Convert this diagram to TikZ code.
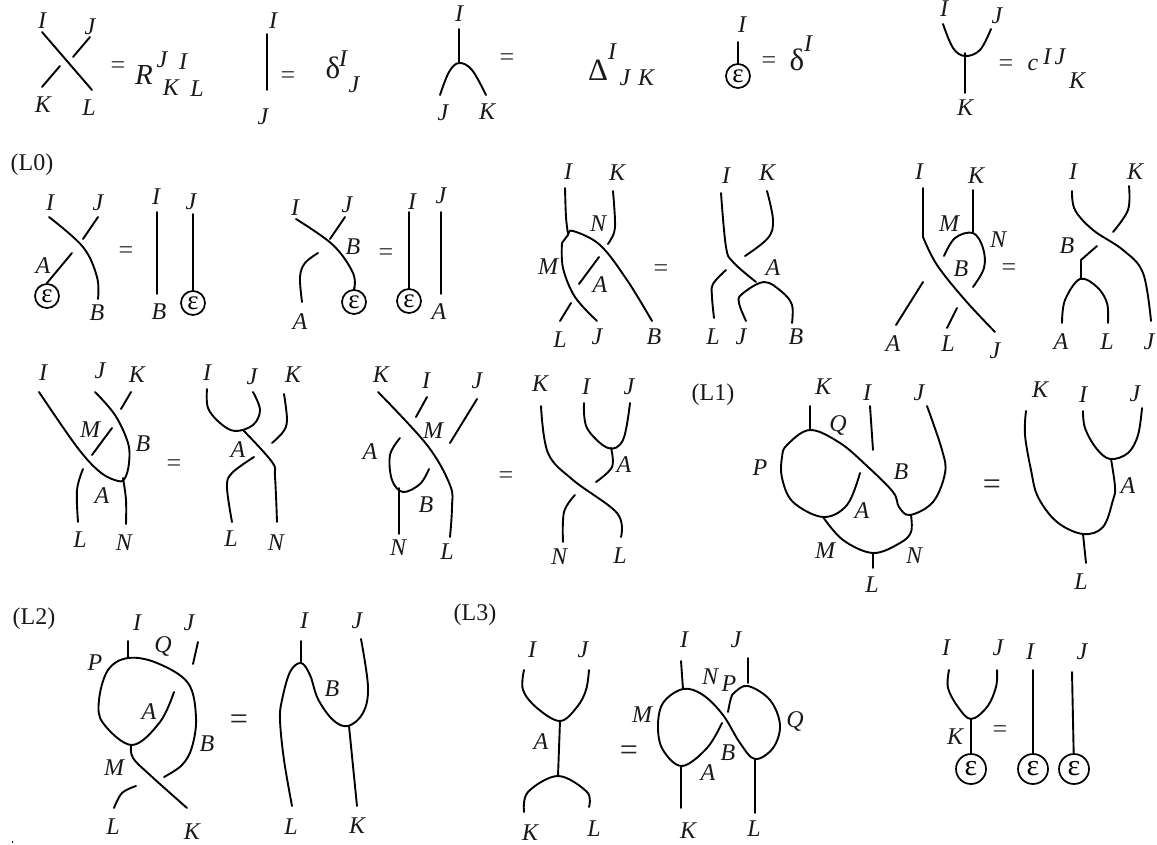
\documentclass[tikz,border=0pt]{standalone}
\usepackage{fontspec}
\setmainfont{Liberation Serif}
\newcounter{lbc}
\newcommand\labl[3]{\stepcounter{lbc}\node[lab] (lb\arabic{lbc}) at (#1,#2) {#3};}
\newcommand\labr[3]{\stepcounter{lbc}\node[labup] (lb\arabic{lbc}) at (#1,#2) {#3};}
\newcommand\labg[3]{\stepcounter{lbc}\node[labgr] (lb\arabic{lbc}) at (#1,#2) {#3};}
\newcommand\eqs[2]{\stepcounter{lbc}\node[eqn] (lb\arabic{lbc}) at (#1,#2) {=};}
\newcommand\eqb[2]{\stepcounter{lbc}\node[eqnb] (lb\arabic{lbc}) at (#1,#2) {=};}
\newcommand\strnd[1]{\draw[st] plot[smooth,tension=0.6] coordinates {#1};}
\newcommand\sgl[2]{\draw[st] #1 -- #2;}
\newcommand\estem[5]{\node[eps] (#1) at (#2,#3) {ε};\coordinate (#1t) at (#4,#5);\draw[st] (#1t) -- (#1);}
\newcommand\bstem[5]{\node[epsb] (#1) at (#2,#3) {ε};\coordinate (#1t) at (#4,#5);\draw[st] (#1t) -- (#1);}
\begin{document}
\begin{tikzpicture}[x=1pt,y=-1pt,
 st/.style={line width=1.9pt,line cap=round,line join=round,black},
 lab/.style={inner sep=0pt,font=\fontsize{24}{24}\selectfont\itshape,text=black!90},
 labup/.style={inner sep=0pt,font=\fontsize{24}{24}\selectfont,text=black!90},
 labgr/.style={inner sep=0pt,font=\fontsize{31}{31}\selectfont,text=black!90},
 eqn/.style={inner sep=0pt,font=\fontsize{26}{26}\selectfont,text=black!80},
 eqnb/.style={inner sep=0pt,font=\fontsize{32}{32}\selectfont,text=black!85},
 eps/.style={circle,draw,line width=1.7pt,minimum size=24pt,inner sep=0pt,fill=white,font=\fontsize{27}{27}\selectfont},
 epsb/.style={eps,minimum size=30pt,font=\fontsize{30}{30}\selectfont}]
\useasboundingbox (0,0) rectangle (1157,845);
% --- top row: R
\sgl{(42,32)}{(92,90)}
\sgl{(90,37)}{(73,57)}
\sgl{(60,66)}{(42,87)}
\labl{42}{21}{I}\labl{90}{27}{J}\labl{43}{105}{K}\labl{89}{108}{L}
\eqs{118}{68}
\labl{144}{75}{\fontsize{29}{29}\selectfont R}\labl{162}{60}{J}\labl{183}{62}{I}\labl{171}{88}{K}\labl{197}{89}{L}
% delta
\sgl{(267,34)}{(267,90)}
\labl{273}{21}{I}\labl{263}{117}{J}\eqs{288}{78}
\labg{333}{68}{δ}\labl{343}{59}{I}\labl{354}{85}{J}
% Delta
\sgl{(459,29)}{(459,63)}
\strnd{(440,95)(449,72)(459,63)(472,70)(486,95)}
\labl{459}{14}{I}\labl{443}{113}{J}\labl{487}{112}{K}\eqs{507}{60}
\labg{598}{70}{Δ}\labl{612}{52}{I}\labl{625}{78}{J}\labl{646}{78}{K}
% epsilon
\estem{ea}{738}{76}{738}{42}
\labl{742}{25}{I}\eqs{769}{63}\labg{797}{60}{δ}\labl{808}{44}{I}
% c
\strnd{(943,24)(953,48)(965,56)(980,50)(991,29)}
\sgl{(965,53)}{(965,93)}
\labl{944}{9}{I}\labl{997}{16}{J}\labl{965}{108}{K}\eqs{1006}{66}
\labl{1033}{65}{c}\labl{1047}{57}{I}\labl{1060}{57}{J}\labl{1077}{81}{K}
% --- L0
\labr{32}{165}{(L0)}
\labl{50}{203}{I}\labl{98}{203}{J}
\strnd{(49,217)(83,247)(97,277)(98,299)}
\sgl{(98,217)}{(83,239)}
\node[eps] (eb) at (47,296) {ε};
\coordinate (ebt) at (72,253);
\coordinate (ebm) at (47,283);
\draw[st] (ebt) -- (ebm) -- (eb.north);
\labl{43}{266}{A}\labl{97}{313}{B}\eqs{126}{253}
\sgl{(157,212)}{(157,294)}
\labl{156}{197}{I}\labl{159}{312}{B}\labl{191}{202}{J}
\estem{ec}{193}{303}{193}{214}
\labl{295}{208}{I}\labl{347}{205}{J}
\strnd{(296,219)(333,245)(353,273)(354,290)}
\estem{ed}{354}{302}{354}{288}
\sgl{(345,217)}{(330,239)}
\strnd{(318,253)(305,263)(300,277)(302,302)}
\labl{353}{247}{B}\labl{300}{322}{A}\eqs{386}{255}
\estem{ee}{409}{301}{409}{212}
\labl{412}{202}{I}\labl{441}{196}{J}
\sgl{(441,212)}{(441,294)}
\labl{439}{312}{A}
% --- second group
\labl{568}{172}{I}\labl{617}{173}{K}
\strnd{(565,188)(566,217)(568,234)}
\strnd{(613,191)(615,220)(614,233)(608,244)}
\labl{598}{224}{N}
\strnd{(562,243)(568,235)(573,231)(600,245)(627,280)(652,321)}
\strnd{(562,243)(563,268)(575,297)(597,321)}
\labl{548}{267}{M}
\sgl{(599,257)}{(579,284)}
\labl{600}{285}{A}
\sgl{(571,303)}{(560,321)}
\labl{560}{340}{L}\labl{597}{337}{J}\labl{654}{337}{B}\eqs{661}{271}
\labl{726}{176}{I}\labl{767}{173}{K}
\strnd{(721,193)(726,247)(733,262)(756,282)}
\strnd{(767,191)(773,220)(768,238)(745,256)}
\strnd{(726,270)(713,284)(712,297)(714,318)}
\strnd{(746,321)(739,303)(742,294)(764,282)(782,292)(792,305)(792,323)}
\labl{773}{268}{A}\labl{713}{337}{L}\labl{741}{337}{J}\labl{796}{337}{B}
% --- third group
\labl{919}{172}{I}\labl{976}{176}{K}
\sgl{(923,188)}{(923,237)}
\strnd{(923,237)(937,265)(965,300)(995,332)}
\sgl{(973,190)}{(973,233)}
\strnd{(944,256)(955,238)(973,233)(983,248)(984,268)(973,287)}
\labl{949}{224}{M}\labl{998}{240}{N}\labl{961}{269}{B}\eqs{1009}{270}
\sgl{(923,282)}{(896,325)}
\sgl{(957,308)}{(947,328)}
\labl{893}{344}{A}\labl{948}{344}{L}\labl{995}{351}{J}
\labl{1073}{172}{I}\labl{1135}{172}{K}
\strnd{(1072,191)(1075,210)(1093,230)(1123,250)(1143,273)(1151,321)}
\strnd{(1129,186)(1128,210)(1113,232)}
\labl{1067}{246}{B}
\draw[st] (1097,246) -- (1081,260) -- (1081,279);
\strnd{(1062,323)(1065,300)(1080,279)(1097,287)(1107,303)(1108,323)}
\labl{1061}{342}{A}\labl{1107}{342}{L}\labl{1149}{342}{J}
% --- row 3 left
\labl{43}{373}{I}\labl{100}{371}{J}\labl{137}{375}{K}
\strnd{(39,392)(77,447)(100,472)(118,481)(125,478)(129,463)(128,443)(115,415)(95,392)}
\sgl{(131,392)}{(121,409)}
\sgl{(112,428)}{(92,455)}
\labl{90}{430}{M}\labl{143}{444}{B}\labl{102}{496}{A}
\strnd{(83,469)(77,490)(78,522)}
\strnd{(123,478)(126,500)(126,524)}
\labl{80}{540}{L}\labl{124}{543}{N}\eqs{174}{466}
\labl{207}{373}{I}\labl{252}{377}{J}\labl{293}{375}{K}
\strnd{(207,389)(208,408)(220,423)(235,431)(253,425)(260,410)(253,392)}
\strnd{(243,430)(272,462)(275,477)(277,522)}
\strnd{(284,394)(287,420)(283,432)(272,443)}
\labl{238}{450}{A}
\strnd{(254,457)(232,473)(227,487)(232,522)}
\labl{231}{539}{L}\labl{276}{543}{N}
% --- row 3 middle
\labl{381}{375}{K}\labl{426}{381}{I}\labl{477}{381}{J}
\strnd{(378,392)(427,445)(450,485)(452,507)(450,537)}
\sgl{(427,397)}{(416,417)}
\sgl{(477,399)}{(450,443)}
\labl{433}{431}{M}\labl{370}{452}{A}\labl{426}{505}{B}
\strnd{(400,438)(390,455)(392,480)(403,492)(420,484)(429,469)}
\sgl{(399,488)}{(399,534)}
\labl{398}{548}{N}\labl{447}{552}{L}\eqs{506}{478}
\labl{540}{384}{K}\labl{586}{387}{I}\labl{629}{387}{J}
\strnd{(541,406)(548,453)(573,480)(617,513)(621,537)}
\strnd{(584,403)(587,428)(608,448)(623,440)(630,403)}
\strnd{(611,448)(612,467)(596,482)}
\labl{624}{465}{A}
\strnd{(575,495)(564,512)(563,542)}
\labl{559}{557}{N}\labl{620}{556}{L}
% --- L1
\labr{713}{395}{(L1)}
\labl{823}{387}{K}\labl{867}{393}{I}\labl{919}{393}{J}
\sgl{(810,406)}{(810,430)}
\sgl{(870,406)}{(873,450)}
\strnd{(860,473)(847,505)(823,517)(793,502)(782,478)(782,457)(787,445)(810,430)(840,443)(867,466)(893,492)(899,507)(910,515)(933,502)(945,473)(942,450)(927,406)}
\strnd{(911,515)(911,532)(900,543)(873,553)(843,540)(823,517)}
\sgl{(873,553)}{(873,568)}
\labl{838}{425}{Q}\labl{760}{468}{P}\labl{901}{472}{B}\labl{862}{511}{A}\labl{825}{551}{M}\labl{914}{556}{N}\labl{872}{585}{L}\eqb{992}{487}
\labl{1040}{390}{K}\labl{1083}{395}{I}\labl{1135}{394}{J}
\strnd{(1026,411)(1025,435)(1031,470)(1038,497)(1057,522)(1083,534)(1103,527)(1113,500)(1115,487)(1111,459)}
\strnd{(1083,411)(1085,428)(1096,448)(1110,459)(1128,453)(1138,435)(1142,408)}
\sgl{(1083,534)}{(1086,563)}
\labl{1128}{486}{A}\labl{1081}{582}{L}
% --- L2
\labr{34}{619}{(L2)}
\labl{137}{623}{I}\labl{189}{623}{J}\labl{163}{646}{Q}\labl{95}{663}{P}\labl{149}{712}{A}\labl{207}{744}{B}\labl{114}{768}{M}\labl{113}{827}{L}\labl{192}{832}{K}\eqb{239}{722}
\sgl{(128,641)}{(128,658)}
\sgl{(198,642)}{(193,664)}
\strnd{(174,692)(160,722)(132,745)(103,723)(99,700)(108,670)(128,658)(157,663)(188,683)(196,717)(192,747)(182,765)(164,777)}
\strnd{(131,745)(133,758)(150,775)(187,808)}
\strnd{(136,786)(122,793)(114,808)}
\labl{304}{621}{I}\labl{357}{621}{J}\labl{332}{689}{B}\labl{291}{827}{L}\labl{357}{826}{K}
\sgl{(301,641)}{(301,663)}
\strnd{(292,806)(284,760)(280,720)(282,700)(290,672)(301,663)(310,675)(318,699)(333,720)(348,726)(363,713)(368,687)(361,639)}
\sgl{(349,726)}{(357,806)}
\draw[line width=0.8pt] (12,841) -- (12,843);
% --- L3
\labr{475}{615}{(L3)}
\labl{532}{650}{I}\labl{583}{650}{J}\labl{541}{742}{A}\labl{530}{833}{K}\labl{594}{829}{L}\eqb{629}{753}
\strnd{(524,670)(523,690)(537,708)(560,721)(577,707)(586,690)(589,670)}
\sgl{(560,721)}{(558,776)}
\strnd{(524,812)(528,792)(558,776)(587,792)(589,807)}
\labl{684}{640}{I}\labl{736}{640}{J}\labl{710}{677}{N}\labl{729}{684}{P}\labl{642}{715}{M}\labl{795}{721}{Q}\labl{728}{753}{B}\labl{708}{773}{A}\labl{688}{831}{K}\labl{754}{829}{L}
\sgl{(681,661)}{(683,689)}
\strnd{(722,723)(707,748)(682,766)(663,750)(658,727)(663,703)(683,689)(703,695)(723,715)(740,743)(755,759)(773,748)(780,725)(770,700)(748,686)(735,692)(731,698)(728,712)}
\sgl{(748,658)}{(748,683)}
\sgl{(681,766)}{(681,808)}
\sgl{(755,759)}{(755,813)}
% --- last
\labl{946}{648}{I}\labl{998}{648}{J}\labl{1030}{652}{I}\labl{1082}{652}{J}\labl{955}{737}{K}\eqs{1000}{732}
\strnd{(949,670)(948,688)(958,707)(971,719)(987,707)(996,687)(997,670)}
\bstem{ef}{971}{769}{971}{719}
\bstem{eg}{1033}{769}{1033}{670}
\bstem{eh}{1074}{769}{1072}{672}
\end{tikzpicture}
\end{document}
